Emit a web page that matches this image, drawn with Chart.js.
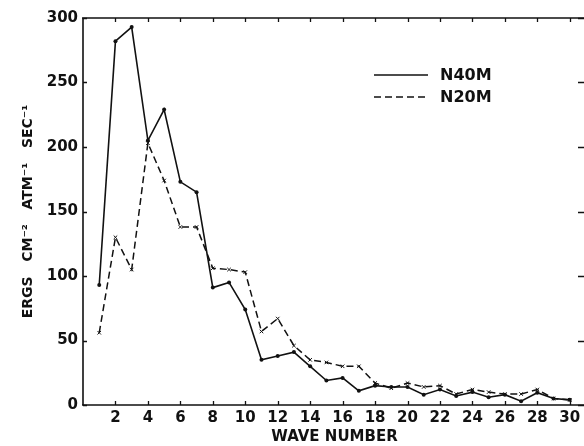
<!DOCTYPE html>
<html>
<head>
<meta charset="utf-8">
<script src="https://cdn.jsdelivr.net/npm/chart.js@4/dist/chart.umd.min.js"></script>
<style>
  html, body { margin: 0; padding: 0; background: #fff; overflow: hidden; }
  canvas { display: block; }
</style>
</head>
<body>
<canvas id="c" width="600" height="446"></canvas>
<script>
const waveNumbers = [1,2,3,4,5,6,7,8,9,10,11,12,13,14,15,16,17,18,19,20,21,22,23,24,25,26,27,28,29,30];
const n40m = [93,282,293,205,229,173,165,91,95,74,35,38,41,30,19,21,11,15,14,14,8,12,7,10,6,8,3,9.5,5,4];
const n20m = [56,130,105,203,174,138,138,106,105,103,57,67,46,35,33,30,30,17,13,17,14,15,8.5,12,10,8.5,8.5,12,5,4];
const xTickValues = [2,4,6,8,10,12,14,16,18,20,22,24,26,28,30];
const yTickValues = [0,50,100,150,200,250,300];
const seriesLabels = ['N40M', 'N20M'];
const xTitle = 'WAVE NUMBER';
const yTitle = 'ERGS   CM\u207B\u00B2   ATM\u207B\u00B9   SEC\u207B\u00B9';

const FONT = "'DejaVu Sans'";
const INK = '#111';

const framePlugin = {
  id: 'frame',
  afterDatasetsDraw(chart) {
    const {ctx, chartArea: a, scales: {x, y}} = chart;
    ctx.save();
    ctx.strokeStyle = INK;
    ctx.lineWidth = 1.6;
    ctx.beginPath();
    ctx.moveTo(a.left, a.top); ctx.lineTo(a.left, a.bottom);
    ctx.moveTo(a.left - 1, a.bottom); ctx.lineTo(a.right, a.bottom);
    ctx.moveTo(a.left - 1, a.top); ctx.lineTo(a.right, a.top);
    ctx.moveTo(a.right - 1, a.top); ctx.lineTo(a.right - 1, a.bottom);
    ctx.stroke();
    ctx.lineWidth = 1.3;
    ctx.beginPath();
    xTickValues.forEach(v => {
      const px = Math.round(x.getPixelForValue(v)) + 0.5;
      ctx.moveTo(px, a.bottom); ctx.lineTo(px, a.bottom - 4);
      ctx.moveTo(px, a.top); ctx.lineTo(px, a.top + 4);
    });
    yTickValues.forEach(v => {
      const py = Math.round(y.getPixelForValue(v)) + 0.5;
      ctx.moveTo(a.left, py); ctx.lineTo(a.left + 4, py);
      ctx.moveTo(a.right, py); ctx.lineTo(a.right - 8, py);
    });
    ctx.stroke();
    ctx.restore();
  }
};

const legendPlugin = {
  id: 'innerLegend',
  afterDatasetsDraw(chart) {
    const {ctx} = chart;
    ctx.save();
    ctx.font = "bold 16px " + FONT;
    ctx.fillStyle = INK;
    ctx.textBaseline = 'middle';
    chart.data.datasets.forEach((ds, i) => {
      const yy = 75 + i * 22;
      ctx.strokeStyle = INK;
      ctx.lineWidth = 1.5;
      ctx.setLineDash(ds.borderDash || []);
      ctx.beginPath();
      ctx.moveTo(374, yy); ctx.lineTo(428, yy);
      ctx.stroke();
      ctx.setLineDash([]);
      ctx.fillText(ds.label, 440, yy + 1);
    });
    ctx.restore();
  }
};

new Chart(document.getElementById('c'), {
  type: 'line',
  data: {
    datasets: [
      {
        label: seriesLabels[0],
        data: waveNumbers.map((w, i) => ({x: w, y: n40m[i]})),
        borderColor: INK,
        borderWidth: 1.6,
        pointStyle: 'circle',
        pointRadius: 2,
        pointBackgroundColor: INK,
        pointBorderColor: INK,
        pointBorderWidth: 0,
        tension: 0,
        fill: false
      },
      {
        label: seriesLabels[1],
        data: waveNumbers.map((w, i) => ({x: w, y: n20m[i]})),
        borderColor: INK,
        borderWidth: 1.5,
        borderDash: [7, 4],
        pointStyle: 'crossRot',
        pointRadius: 2.5,
        pointBorderColor: INK,
        pointBorderWidth: 1,
        tension: 0,
        fill: false
      }
    ]
  },
  options: {
    responsive: false,
    animation: false,
    devicePixelRatio: 1,
    layout: { padding: { top: 18, right: 14, left: 0, bottom: 0 } },
    plugins: { legend: { display: false }, tooltip: { enabled: false } },
    scales: {
      x: {
        type: 'linear',
        min: 0, max: 31,
        afterBuildTicks: s => { s.ticks = xTickValues.map(v => ({value: v})); },
        afterFit: s => { s.height = 41; },
        grid: { display: false, drawTicks: false },
        border: { display: false },
        ticks: { color: INK, font: { family: FONT, weight: 'bold', size: 15 }, padding: 4, maxRotation: 0, autoSkip: false },
        title: { display: true, text: xTitle, color: INK, font: { family: FONT, weight: 'bold', size: 15, lineHeight: 1.2 }, padding: { top: 0, bottom: 0 } }
      },
      y: {
        min: 0, max: 300,
        afterBuildTicks: s => { s.ticks = yTickValues.map(v => ({value: v})); },
        afterFit: s => { s.width = 83; },
        grid: { display: false, drawTicks: false },
        border: { display: false },
        ticks: { color: INK, font: { family: FONT, weight: 'bold', size: 15 }, padding: 5 },
        title: { display: true, text: yTitle, color: INK, font: { family: FONT, weight: 'bold', size: 14, lineHeight: 1.2 }, padding: { top: 20, bottom: 0 } }
      }
    }
  },
  plugins: [framePlugin, legendPlugin]
});
</script>
</body>
</html>
